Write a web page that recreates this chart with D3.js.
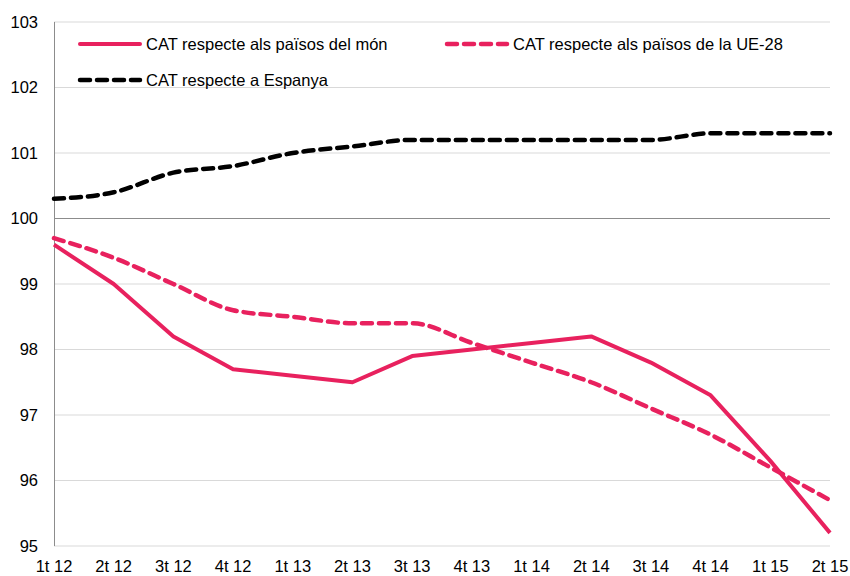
<!DOCTYPE html>
<html>
<head>
<meta charset="utf-8">
<script src="https://cdn.jsdelivr.net/npm/d3@7"></script>
<style>
  body { margin: 0; background: #fff; }
  svg { font-family: "Liberation Sans", Arial, sans-serif; }
</style>
</head>
<body>
<svg width="850" height="576"></svg>
<script>
const quarters = ["1t 12", "2t 12", "3t 12", "4t 12", "1t 13", "2t 13", "3t 13",
                  "4t 13", "1t 14", "2t 14", "3t 14", "4t 14", "1t 15", "2t 15"];
const mon = [99.6, 99.0, 98.2, 97.7, 97.6, 97.5, 97.9, 98.0, 98.1, 98.2, 97.8, 97.3, 96.3, 95.2];
const ue28 = [99.7, 99.4, 99.0, 98.6, 98.5, 98.4, 98.4, 98.1, 97.8, 97.5, 97.1, 96.7, 96.2, 95.7];
const espanya = [100.3, 100.4, 100.7, 100.8, 101.0, 101.1, 101.2, 101.2, 101.2, 101.2, 101.2, 101.3, 101.3, 101.3];
const yTicks = [95, 96, 97, 98, 99, 100, 101, 102, 103];

const pink = "#e8215e";
const fontSize = 16.5;
const svg = d3.select("svg");

const x = d3.scalePoint().domain(quarters).range([54, 830]);
const y = d3.scaleLinear().domain([95, 103]).range([546, 22]);

// grid lines
svg.append("g")
    .selectAll("line")
    .data(yTicks)
    .enter()
    .append("line")
    .attr("x1", 54)
    .attr("x2", 830)
    .attr("y1", d => y(d))
    .attr("y2", d => y(d))
    .attr("stroke", d => d === 100 ? "#8c8c8c" : "#d9d9d9")
    .attr("stroke-width", 1);

// y axis line
svg.append("line")
    .attr("x1", 54.5).attr("x2", 54.5)
    .attr("y1", y(103)).attr("y2", y(95))
    .attr("stroke", "#8c8c8c");

// y labels
svg.append("g")
    .selectAll("text")
    .data(yTicks)
    .enter()
    .append("text")
    .attr("x", 38)
    .attr("y", d => y(d))
    .attr("dy", "0.35em")
    .attr("text-anchor", "end")
    .attr("font-size", fontSize)
    .attr("fill", "#000")
    .text(d => d);

// x labels
svg.append("g")
    .selectAll("text")
    .data(quarters)
    .enter()
    .append("text")
    .attr("x", d => x(d))
    .attr("y", 572)
    .attr("text-anchor", "middle")
    .attr("font-size", fontSize)
    .attr("fill", "#000")
    .text(d => d);

function drawSeries(values, color, dashed, curve) {
    const line = d3.line()
        .x((d, i) => x(quarters[i]))
        .y(d => y(d))
        .curve(curve);
    const path = svg.append("path")
        .datum(values)
        .attr("d", line)
        .attr("fill", "none")
        .attr("stroke", color)
        .attr("stroke-width", dashed ? 4.5 : 4)
        .attr("stroke-linejoin", "round");
    if (dashed) {
        path.attr("stroke-dasharray", "10,7").attr("stroke-linecap", "round");
    }
}

drawSeries(espanya, "#000", true, d3.curveMonotoneX);
drawSeries(ue28, pink, true, d3.curveMonotoneX);
drawSeries(mon, pink, false, d3.curveLinear);

// legend
const legend = [
    { label: "CAT respecte als països del món", color: pink, dashed: false, x: 78, y: 44 },
    { label: "CAT respecte als països de la UE-28", color: pink, dashed: true, x: 445, y: 44 },
    { label: "CAT respecte a Espanya", color: "#000", dashed: true, x: 78, y: 80 }
];
const lg = svg.append("g")
    .selectAll("g")
    .data(legend)
    .enter()
    .append("g");
lg.append("line")
    .attr("x1", d => d.x + 2)
    .attr("x2", d => d.x + 62)
    .attr("y1", d => d.y)
    .attr("y2", d => d.y)
    .attr("stroke", d => d.color)
    .attr("stroke-width", d => d.dashed ? 4.5 : 4)
    .attr("stroke-linecap", "round")
    .attr("stroke-dasharray", d => d.dashed ? "10,7" : null);
lg.append("text")
    .attr("x", d => d.x + 68)
    .attr("y", d => d.y)
    .attr("dy", "0.35em")
    .attr("font-size", fontSize)
    .attr("fill", "#000")
    .text(d => d.label);
</script>
</body>
</html>
